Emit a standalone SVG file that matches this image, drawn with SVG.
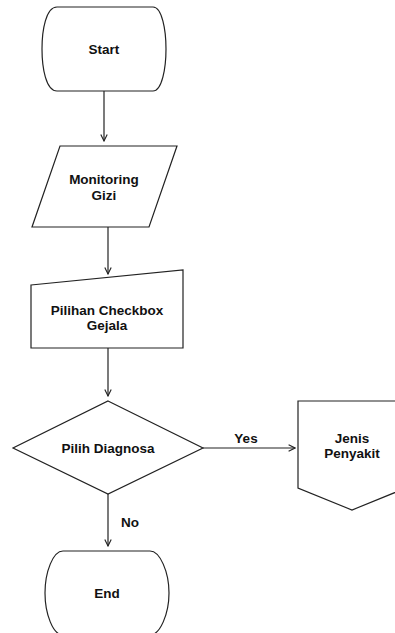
<svg xmlns="http://www.w3.org/2000/svg" width="395" height="633" viewBox="0 0 395 633">
<defs>
<style>
.s{fill:#fff;stroke:#222;stroke-width:1.2}
.c{fill:none;stroke:#222;stroke-width:1.2}
.t{font-family:"Liberation Sans",Arial,sans-serif;font-weight:bold;font-size:13.5px;fill:#111;text-anchor:middle}
</style>
<marker id="a" viewBox="0 0 10 10" refX="9" refY="5" markerWidth="8" markerHeight="8" markerUnits="userSpaceOnUse" orient="auto">
<polyline points="1,1 9,5 1,9" fill="none" stroke="#222" stroke-width="1.4"/>
</marker>
</defs>
<rect width="395" height="633" fill="#fff"/>
<g id="connectors">
<line class="c" x1="104" y1="91" x2="104" y2="141" marker-end="url(#a)"/>
<line class="c" x1="108" y1="227" x2="108" y2="274" marker-end="url(#a)"/>
<line class="c" x1="108" y1="348" x2="108" y2="396" marker-end="url(#a)"/>
<line class="c" x1="203" y1="448" x2="295" y2="448" marker-end="url(#a)"/>
<text class="t" x="246" y="443">Yes</text>
<line class="c" x1="108" y1="494" x2="108" y2="546" marker-end="url(#a)"/>
<text class="t" x="130" y="527">No</text>
</g>
<g id="start">
<path class="s" d="M57,7 H153 C162,7 166,30 166,49 C166,68 162,91 153,91 H57 C46,91 42,68 42,49 C42,30 46,7 57,7 Z"/>
<text class="t" x="104" y="54">Start</text>
</g>
<g id="monitoring">
<polygon class="s" points="60,146 177,146 149,227 32,227"/>
<text class="t" x="104" y="184">Monitoring</text>
<text class="t" x="104" y="200">Gizi</text>
</g>
<g id="checkbox">
<polygon class="s" points="31,285 183,270 183,348 31,348"/>
<text class="t" x="107" y="315">Pilihan Checkbox</text>
<text class="t" x="107" y="330">Gejala</text>
</g>
<g id="diagnosa">
<polygon class="s" points="108,401 203,448 108,494 13,448"/>
<text class="t" x="108" y="453">Pilih Diagnosa</text>
</g>
<g id="jenis">
<polygon class="s" points="298,401 406,401 406,488 352,510 298,488"/>
<text class="t" x="352" y="443">Jenis</text>
<text class="t" x="352" y="458">Penyakit</text>
</g>
<g id="end">
<path class="s" d="M63,551 H150 C160,551 169,572 169,593 C169,614 160,635 150,635 H63 C53,635 45,614 45,593 C45,572 53,551 63,551 Z"/>
<text class="t" x="107" y="598">End</text>
</g>
</svg>
